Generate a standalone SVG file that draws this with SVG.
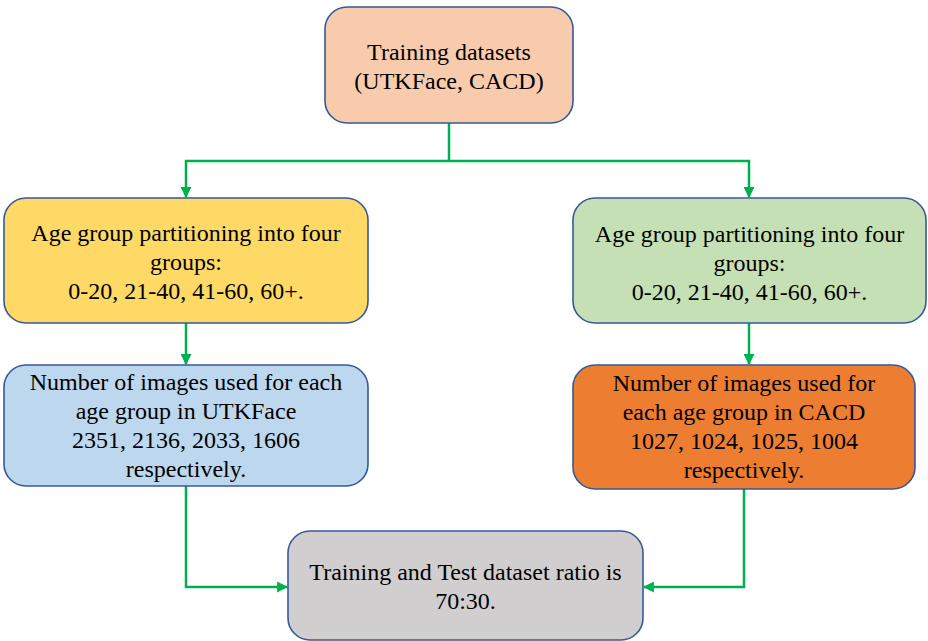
<svg xmlns="http://www.w3.org/2000/svg" width="928" height="641" viewBox="0 0 928 641">
<defs>
<style>
.box{stroke:#35599A;stroke-width:1.6}
.t{font-family:'Liberation Serif','Times New Roman',serif;font-size:24px;fill:#000;text-anchor:middle}
.c{fill:none;stroke:#00B050;stroke-width:2.5}
</style>
<marker id="ah" viewBox="0 0 10 10" refX="9" refY="5" markerWidth="11" markerHeight="11" markerUnits="userSpaceOnUse" orient="auto">
<path d="M0,0 L10,5 L0,10 z" fill="#00B050"/>
</marker>
</defs>
<rect width="928" height="641" fill="#fff"/>
<g id="connectors">
<path class="c" d="M449,123 V161"/>
<path class="c" d="M449,161 H186 V197" marker-end="url(#ah)"/>
<path class="c" d="M449,161 H749 V197" marker-end="url(#ah)"/>
<path class="c" d="M186,323 V364" marker-end="url(#ah)"/>
<path class="c" d="M749,323 V364" marker-end="url(#ah)"/>
<path class="c" d="M186,486 V587 H287" marker-end="url(#ah)"/>
<path class="c" d="M744,489 V587 H644" marker-end="url(#ah)"/>
</g>
<g id="n1">
<rect class="box" x="325" y="7" width="248" height="116" rx="22" fill="#F8CBAD"/>
<text class="t" x="449" y="60">Training datasets</text>
<text class="t" x="449" y="89">(UTKFace, CACD)</text>
</g>
<g id="n2">
<rect class="box" x="4" y="198" width="364" height="125" rx="22" fill="#FFD966"/>
<text class="t" x="186" y="241">Age group partitioning into four</text>
<text class="t" x="186" y="270">groups:</text>
<text class="t" x="186" y="299">0-20, 21-40, 41-60, 60+.</text>
</g>
<g id="n3">
<rect class="box" x="573" y="198" width="353" height="125" rx="22" fill="#C5E0B4"/>
<text class="t" x="749.5" y="242">Age group partitioning into four</text>
<text class="t" x="749.5" y="271">groups:</text>
<text class="t" x="749.5" y="300">0-20, 21-40, 41-60, 60+.</text>
</g>
<g id="n4">
<rect class="box" x="4" y="365" width="364" height="121" rx="22" fill="#BDD7EE"/>
<text class="t" x="186" y="390">Number of images used for each</text>
<text class="t" x="186" y="419">age group in UTKFace</text>
<text class="t" x="186" y="448">2351, 2136, 2033, 1606</text>
<text class="t" x="186" y="477">respectively.</text>
</g>
<g id="n5">
<rect class="box" x="573" y="365" width="342" height="124" rx="22" fill="#ED7D31"/>
<text class="t" x="744" y="391">Number of images used for</text>
<text class="t" x="744" y="420">each age group in CACD</text>
<text class="t" x="744" y="449">1027, 1024, 1025, 1004</text>
<text class="t" x="744" y="478">respectively.</text>
</g>
<g id="n6">
<rect class="box" x="288" y="531" width="355" height="109" rx="22" fill="#D0CECE"/>
<text class="t" x="465.5" y="580">Training and Test dataset ratio is</text>
<text class="t" x="465.5" y="609">70:30.</text>
</g>
</svg>
